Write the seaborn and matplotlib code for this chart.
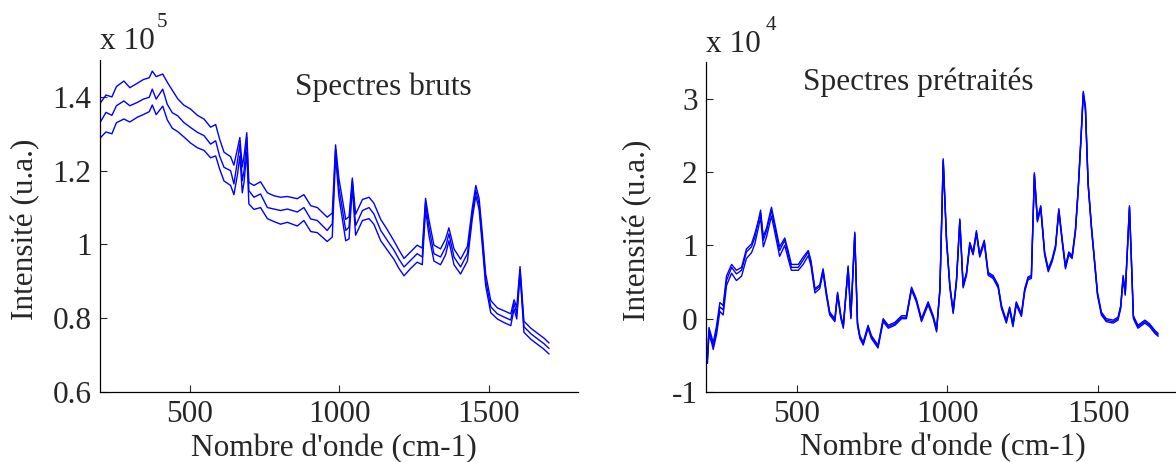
import matplotlib
matplotlib.use("Agg")
import matplotlib.pyplot as plt
import seaborn as sns

# raw spectra (x 10^5)
wn_raw = [200, 220, 240, 255, 280, 300, 325, 345, 365, 375, 388, 410, 425, 442, 460, 480,
          503, 526, 548, 570, 587, 600, 615, 637, 648, 660, 668, 676, 682, 691, 698, 715,
          737, 760, 782, 804, 827, 860, 882, 905, 927, 960, 977, 988, 999, 1022, 1033, 1044,
          1055, 1078, 1100, 1116, 1139, 1161, 1183, 1200, 1217, 1239, 1261, 1278, 1289, 1300,
          1317, 1339, 1356, 1367, 1384, 1406, 1429, 1445, 1457, 1468, 1479, 1490, 1507, 1529,
          1552, 1574, 1585, 1594, 1605, 1618, 1641, 1662, 1685, 1702]
raw_top = [1.382, 1.405, 1.400, 1.428, 1.443, 1.425, 1.437, 1.447, 1.452, 1.470, 1.455, 1.462,
           1.440, 1.418, 1.395, 1.378, 1.367, 1.350, 1.340, 1.318, 1.325, 1.286, 1.250, 1.238,
           1.215, 1.260, 1.290, 1.210, 1.240, 1.303, 1.168, 1.160, 1.170, 1.140, 1.132, 1.128,
           1.130, 1.124, 1.135, 1.105, 1.100, 1.074, 1.085, 1.270, 1.180, 1.068, 1.075, 1.180,
           1.082, 1.122, 1.128, 1.112, 1.068, 1.040, 1.010, 0.985, 0.962, 0.980, 0.998, 0.990,
           1.125, 1.068, 0.998, 0.988, 1.015, 1.045, 0.988, 0.960, 0.995, 1.098, 1.160, 1.125,
           1.028, 0.920, 0.848, 0.828, 0.820, 0.812, 0.850, 0.830, 0.940, 0.792, 0.773, 0.760,
           0.746, 0.733]
raw_mid = [1.330, 1.358, 1.350, 1.376, 1.389, 1.376, 1.385, 1.394, 1.399, 1.421, 1.394, 1.421,
           1.380, 1.357, 1.349, 1.331, 1.317, 1.304, 1.295, 1.272, 1.281, 1.240, 1.209, 1.200,
           1.164, 1.227, 1.272, 1.173, 1.200, 1.290, 1.146, 1.128, 1.137, 1.100, 1.096, 1.092,
           1.096, 1.088, 1.100, 1.069, 1.065, 1.038, 1.056, 1.258, 1.155, 1.038, 1.047, 1.173,
           1.051, 1.092, 1.100, 1.083, 1.038, 1.011, 0.985, 0.960, 0.939, 0.957, 0.975, 0.966,
           1.115, 1.047, 0.975, 0.966, 0.993, 1.029, 0.966, 0.939, 0.975, 1.083, 1.146, 1.110,
           1.011, 0.903, 0.831, 0.812, 0.803, 0.795, 0.840, 0.813, 0.930, 0.777, 0.758, 0.745,
           0.731, 0.718]
raw_low = [1.288, 1.305, 1.300, 1.330, 1.340, 1.332, 1.345, 1.352, 1.360, 1.378, 1.352, 1.375,
           1.338, 1.315, 1.306, 1.292, 1.275, 1.262, 1.255, 1.235, 1.240, 1.205, 1.172, 1.160,
           1.135, 1.190, 1.240, 1.140, 1.170, 1.250, 1.110, 1.095, 1.100, 1.070, 1.062, 1.055,
           1.060, 1.050, 1.065, 1.035, 1.032, 1.008, 1.020, 1.240, 1.130, 1.010, 1.015, 1.155,
           1.025, 1.065, 1.070, 1.055, 1.010, 0.985, 0.960, 0.935, 0.915, 0.935, 0.952, 0.945,
           1.095, 1.025, 0.955, 0.945, 0.972, 1.010, 0.945, 0.920, 0.955, 1.068, 1.132, 1.095,
           0.995, 0.888, 0.815, 0.798, 0.788, 0.780, 0.825, 0.798, 0.920, 0.762, 0.743, 0.730,
           0.716, 0.703]

# preprocessed spectra (x 10^4)
wn_pre = [205, 210, 219, 224, 235, 246, 257, 268, 285, 301, 318, 334, 351, 362, 381, 390,
          401, 417, 428, 444, 461, 472, 483, 506, 522, 539, 548, 561, 577, 588, 599, 610,
          627, 636, 647, 655, 671, 680, 693, 702, 710, 721, 737, 748, 770, 787, 804, 826,
          848, 864, 881, 897, 914, 936, 953, 964, 975, 986, 997, 1008, 1019, 1030, 1041, 1052,
          1063, 1074, 1085, 1096, 1107, 1122, 1135, 1151, 1168, 1179, 1195, 1206, 1217, 1228,
          1245, 1256, 1267, 1278, 1288, 1298, 1309, 1322, 1334, 1347, 1358, 1369, 1380, 1391,
          1402, 1413, 1424, 1433, 1442, 1450, 1457, 1466, 1477, 1486, 1497, 1510, 1526, 1549,
          1565, 1574, 1582, 1589, 1603, 1609, 1616, 1631, 1654, 1670, 1687, 1698]
pre_a = [-0.61, -0.16, -0.29, -0.37, -0.16, 0.16, 0.12, 0.52, 0.70, 0.61, 0.66, 0.91, 0.98,
         1.11, 1.48, 1.07, 1.20, 1.48, 1.25, 0.93, 1.07, 0.89, 0.70, 0.70, 0.80, 0.91, 0.76,
         0.39, 0.44, 0.66, 0.34, 0.07, -0.02, 0.34, 0.02, -0.11, 0.70, 0.02, 1.16, -0.07, -0.25,
         -0.34, -0.11, -0.25, -0.38, -0.02, -0.11, -0.07, 0.02, 0.02, 0.41, 0.25, -0.02, 0.21,
         0.02, -0.16, 0.39, 2.16, 1.07, 0.44, 0.09, 0.52, 1.34, 0.44, 0.61, 1.02, 0.89, 1.18,
         0.86, 1.05, 0.61, 0.57, 0.44, 0.16, -0.04, 0.14, -0.09, 0.21, 0.05, 0.39, 0.55, 0.57,
         1.97, 1.34, 1.52, 0.89, 0.66, 0.80, 0.98, 1.48, 1.07, 0.70, 0.89, 0.84, 1.20, 1.75,
         2.43, 3.08, 2.88, 1.84, 1.25, 0.84, 0.34, 0.07, -0.02, -0.04, 0.00, 0.16, 0.57, 0.34,
         1.52, 0.84, 0.02, -0.11, -0.04, -0.09, -0.18, -0.22]
pre_b = [-0.55, -0.22, -0.33, -0.42, -0.22, 0.10, 0.05, 0.45, 0.62, 0.52, 0.58, 0.82, 0.90,
         1.02, 1.38, 0.98, 1.12, 1.40, 1.18, 0.85, 1.00, 0.82, 0.66, 0.66, 0.74, 0.86, 0.72,
         0.35, 0.41, 0.63, 0.31, 0.05, -0.04, 0.32, 0.00, -0.13, 0.68, 0.00, 1.14, -0.09, -0.27,
         -0.36, -0.13, -0.27, -0.40, -0.04, -0.13, -0.09, 0.00, 0.00, 0.39, 0.23, -0.04, 0.19,
         0.00, -0.18, 0.37, 2.14, 1.05, 0.42, 0.07, 0.50, 1.32, 0.42, 0.59, 1.00, 0.87, 1.16,
         0.84, 1.03, 0.59, 0.55, 0.42, 0.14, -0.06, 0.12, -0.11, 0.19, 0.03, 0.37, 0.53, 0.55,
         1.95, 1.32, 1.50, 0.87, 0.64, 0.78, 0.96, 1.46, 1.05, 0.68, 0.87, 0.82, 1.18, 1.73,
         2.41, 3.05, 2.86, 1.82, 1.23, 0.82, 0.32, 0.05, -0.04, -0.06, -0.02, 0.14, 0.55, 0.32,
         1.50, 0.82, 0.00, -0.13, -0.06, -0.11, -0.20, -0.24]
pre_c = [-0.50, -0.12, -0.25, -0.33, -0.10, 0.22, 0.18, 0.58, 0.74, 0.66, 0.70, 0.95, 1.02,
         1.16, 1.44, 1.12, 1.24, 1.52, 1.30, 0.98, 1.10, 0.93, 0.74, 0.74, 0.84, 0.93, 0.79,
         0.41, 0.46, 0.68, 0.36, 0.09, 0.00, 0.36, 0.04, -0.09, 0.72, 0.04, 1.18, -0.05, -0.23,
         -0.32, -0.09, -0.23, -0.36, 0.00, -0.09, -0.05, 0.04, 0.04, 0.43, 0.27, 0.00, 0.23,
         0.04, -0.14, 0.41, 2.18, 1.09, 0.46, 0.11, 0.54, 1.36, 0.46, 0.63, 1.04, 0.91, 1.20,
         0.88, 1.07, 0.63, 0.59, 0.46, 0.18, -0.02, 0.16, -0.07, 0.23, 0.07, 0.41, 0.57, 0.59,
         1.99, 1.36, 1.54, 0.91, 0.68, 0.82, 1.00, 1.50, 1.09, 0.72, 0.91, 0.86, 1.22, 1.77,
         2.45, 3.10, 2.90, 1.86, 1.27, 0.86, 0.36, 0.09, 0.00, -0.02, 0.02, 0.18, 0.59, 0.36,
         1.54, 0.86, 0.04, -0.09, -0.02, -0.07, -0.16, -0.20]

sns.set_style("ticks")
plt.rcParams["font.family"] = ["Liberation Serif", "DejaVu Serif"]
fs = 22.5

fig = plt.figure(figsize=(11.76, 4.62), dpi=100)
ax1 = fig.add_axes([0.085, 0.1515, 0.4068, 0.7186])
ax2 = fig.add_axes([0.6003, 0.1515, 0.4107, 0.7143])

for ys in [raw_top, raw_mid, raw_low]:
    sns.lineplot(x=wn_raw, y=ys, ax=ax1, color="blue", lw=1)
for ys in [pre_a, pre_b, pre_c]:
    sns.lineplot(x=wn_pre, y=ys, ax=ax2, color="blue", lw=1)

ax1.set_xlim(200, 1800)
ax1.set_ylim(0.6, 1.5)
ax1.set_yticks([0.6, 0.8, 1.0, 1.2, 1.4])
ax1.set_yticklabels(["0.6", "0.8", "1", "1.2", "1.4"])
ax2.set_xlim(200, 1800)
ax2.set_ylim(-1, 3.5)
ax2.set_yticks([-1, 0, 1, 2, 3])
ax2.set_yticklabels(["-1", "0", "1", "2", "3"])

for ax in [ax1, ax2]:
    ax.set_xticks([500, 1000, 1500])
    ax.set_xticklabels(["500", "1000", "1500"])
    sns.despine(ax=ax)
    ax.tick_params(direction="in", length=5, width=0.8, labelsize=fs, pad=6)
    for s in ["left", "bottom"]:
        ax.spines[s].set_linewidth(0.9)
        ax.spines[s].set_color("black")
    ax.set_xlabel("Nombre d'onde (cm-1)", fontsize=fs)
    ax.set_ylabel("Intensité (u.a.)", fontsize=fs)
    ax.xaxis.set_label_coords(0.49, -0.125)

ax1.yaxis.set_label_coords(-0.125, 0.49)
ax2.yaxis.set_label_coords(-0.112, 0.49)

ax1.text(0.408, 0.895, "Spectres bruts", transform=ax1.transAxes, fontsize=fs, va="baseline")
ax2.text(0.201, 0.915, "Spectres prétraités", transform=ax2.transAxes, fontsize=fs, va="baseline")

ax1.text(0.0, 1.033, "x 10", transform=ax1.transAxes, fontsize=fs, va="baseline")
ax1.text(0.118, 1.10, "5", transform=ax1.transAxes, fontsize=15, va="baseline")
ax2.text(0.0, 1.03, "x 10", transform=ax2.transAxes, fontsize=fs, va="baseline")
ax2.text(0.124, 1.097, "4", transform=ax2.transAxes, fontsize=15, va="baseline")

fig.savefig("out.png", dpi=100)
